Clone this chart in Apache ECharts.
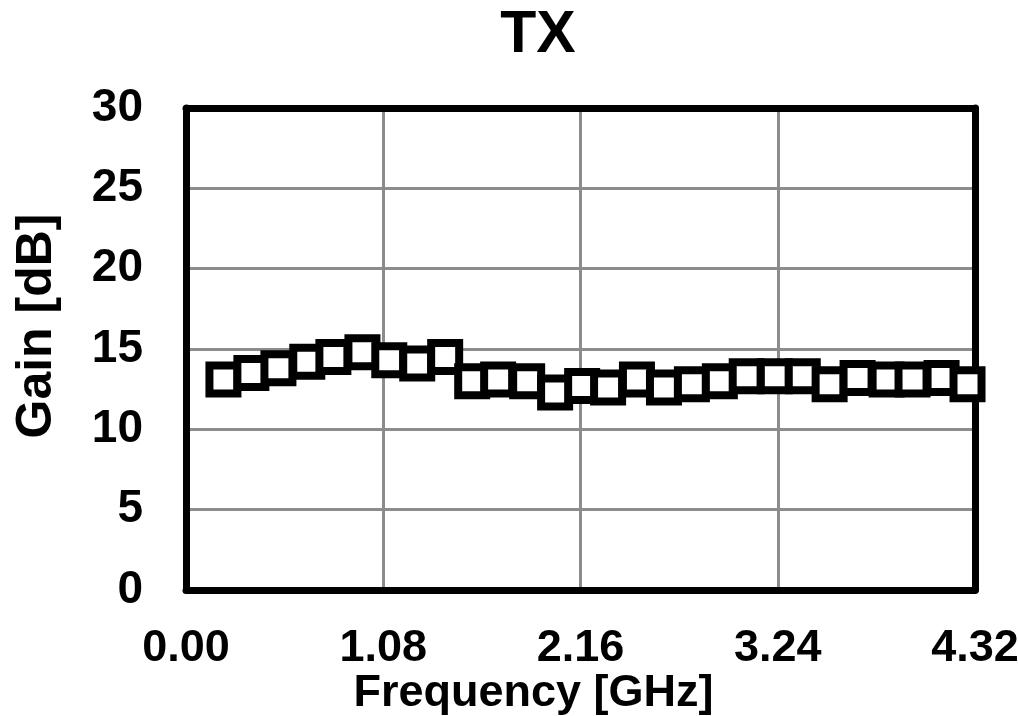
<!DOCTYPE html>
<html lang="en">
<head>
    <meta charset="UTF-8">
    <title>TX Gain</title>
    <script src="https://cdn.jsdelivr.net/npm/echarts@6/dist/echarts.min.js"></script>
    <style>
        html, body { margin: 0; padding: 0; background: #fff; }
        #chart { width: 1018px; height: 716px; }
    </style>
</head>
<body>
    <div id="chart"></div>
    <script>
        // measured points (GHz, dB)
        var freqGHz = [0.205, 0.358, 0.506, 0.664, 0.807, 0.966, 1.113, 1.266, 1.419, 1.567,
                       1.709, 1.868, 2.021, 2.169, 2.311, 2.469, 2.617, 2.770, 2.923, 3.070,
                       3.224, 3.377, 3.524, 3.677, 3.836, 3.978, 4.137, 4.279];
        var gainDb = [13.1, 13.5, 13.8, 14.2, 14.5, 14.8, 14.3, 14.1, 14.5, 13.0,
                      13.1, 13.0, 12.3, 12.7, 12.6, 13.1, 12.6, 12.8, 13.0, 13.3,
                      13.3, 13.3, 12.8, 13.2, 13.1, 13.1, 13.2, 12.8];
        var xTicks = [0, 1.08, 2.16, 3.24, 4.32];
        var yTicks = [0, 5, 10, 15, 20, 25, 30];

        var font = '"Liberation Sans", Arial, sans-serif';
        var frame = { show: true, onZero: false, lineStyle: { color: '#000', width: 7, cap: 'round' } };

        var points = [];
        for (var i = 0; i < freqGHz.length; i++) {
            points.push([freqGHz[i], gainDb[i]]);
        }

        var xRange = { type: 'value', min: xTicks[0], max: xTicks[xTicks.length - 1], interval: xTicks[1] - xTicks[0] };
        var yRange = { type: 'value', min: yTicks[0], max: yTicks[yTicks.length - 1], interval: yTicks[1] - yTicks[0] };

        var chart = echarts.init(document.getElementById('chart'));
        chart.setOption({
            animation: false,
            title: {
                text: 'TX',
                left: 533,
                textAlign: 'center',
                top: 1,
                textStyle: { fontFamily: font, fontWeight: 'bold', fontSize: 59, color: '#000' }
            },
            grid: { left: 186, right: 43, top: 108, bottom: 126, containLabel: false, outerBoundsMode: 'none' },
            xAxis: [Object.assign({}, xRange, {
                position: 'bottom',
                name: 'Frequency [GHz]',
                nameLocation: 'middle',
                nameGap: 81,
                nameMoveOverlap: false,
                nameTextStyle: {
                    fontFamily: font, fontWeight: 'bold', fontSize: 45, color: '#000',
                    padding: [0, 94, 0, 0]
                },
                axisLine: frame,
                axisTick: { show: false },
                axisLabel: {
                    margin: 36,
                    fontFamily: font, fontWeight: 'bold', fontSize: 45, color: '#000',
                    formatter: function (v) { return v.toFixed(2); }
                },
                splitLine: { show: true, lineStyle: { color: '#8c8c8c', width: 3 } }
            }), Object.assign({}, xRange, {
                position: 'top',
                axisLine: frame,
                axisTick: { show: false },
                axisLabel: { show: false },
                splitLine: { show: false }
            })],
            yAxis: [Object.assign({}, yRange, {
                position: 'left',
                name: 'Gain [dB]',
                nameLocation: 'middle',
                nameRotate: 90,
                nameGap: 124,
                nameTextStyle: {
                    fontFamily: font, fontWeight: 'bold', fontSize: 50, color: '#000',
                    padding: [46, 0, 0, 46]
                },
                axisLine: frame,
                axisTick: { show: false },
                axisLabel: {
                    margin: 43,
                    fontFamily: font, fontWeight: 'bold', fontSize: 46, color: '#000'
                },
                splitLine: { show: true, lineStyle: { color: '#8c8c8c', width: 3 } }
            }), Object.assign({}, yRange, {
                position: 'right',
                axisLine: frame,
                axisTick: { show: false },
                axisLabel: { show: false },
                splitLine: { show: false }
            })],
            series: [{
                type: 'scatter',
                data: points,
                symbol: 'rect',
                symbolSize: 28,
                itemStyle: { color: '#fff', borderColor: '#000', borderWidth: 8, opacity: 1 }
            }]
        });
    </script>
</body>
</html>
